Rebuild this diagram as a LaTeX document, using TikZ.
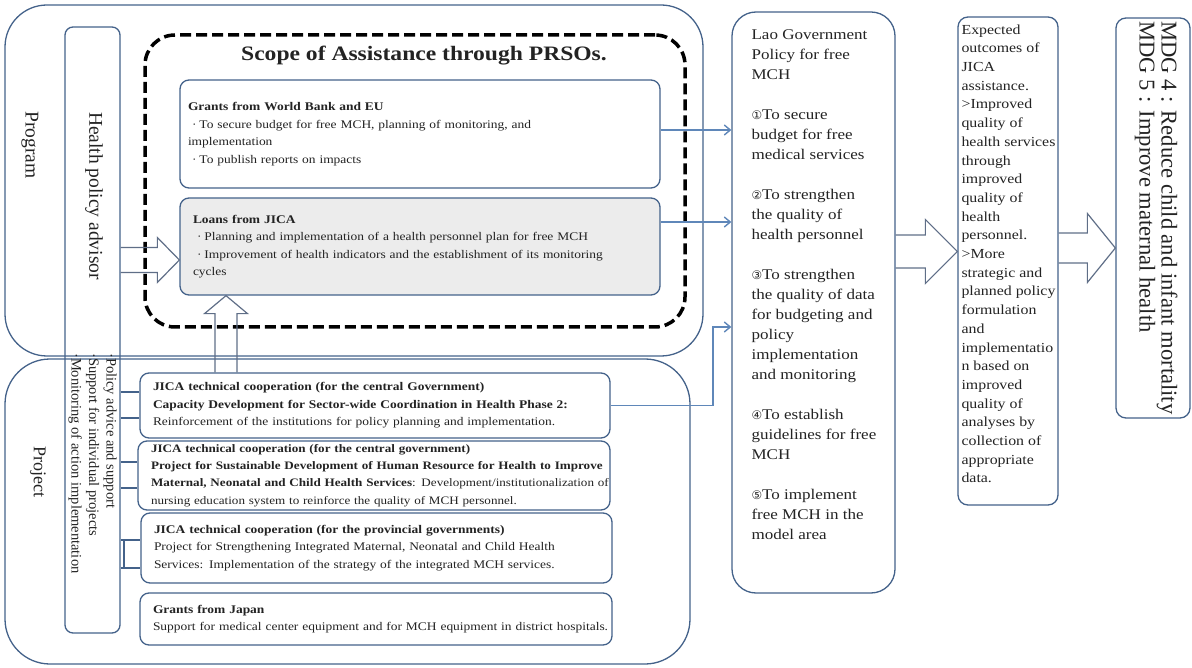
\documentclass[tikz,border=0pt]{standalone}
\usepackage{fontspec}
\setmainfont{Liberation Serif}[FakeStretch=1.15]
\newfontfamily\uprightserif{Liberation Serif}
\newfontfamily\circfont{DejaVu Sans}[Scale=0.8]
\usepackage{tikz}
\usetikzlibrary{arrows.meta, positioning, calc}
\definecolor{colBox}{RGB}{68, 98, 138}
\definecolor{colLink}{RGB}{95, 135, 185}
\definecolor{colArrow}{RGB}{95, 110, 135}
\definecolor{colFill}{RGB}{236, 236, 236}
\definecolor{colText}{RGB}{35, 35, 35}

\begin{document}
\begin{tikzpicture}[x=1pt, y=-1pt,
    every node/.style={inner sep=0pt, text=colText, font=\fontsize{11.7}{17.5}\selectfont},
    frame/.style={draw=colBox, line width=1.3pt},
    box/.style={frame, rounded corners=9pt, fill=white, align=left},
    link/.style={draw=colLink, line width=1.4pt},
    tip/.style={-{Straight Barb[length=6pt,width=10pt]}},
    hollow/.style={draw=colArrow, line width=1.2pt, line join=miter},
    side/.style={rotate=-90, font=\uprightserif\fontsize{19.5}{22}\selectfont}
]
    \useasboundingbox (0,0) rectangle (1192,668);

    % Program / Project frames
    \node[frame, rounded corners=42pt, minimum width=698pt, minimum height=351pt] (program) at (354,180.5) {};
    \node[frame, rounded corners=45pt, minimum width=685pt, minimum height=305pt] (project) at (347.5,511.5) {};
    \node[frame, rounded corners=8pt, minimum width=55pt, minimum height=606pt] (hpa) at (92.5,330) {};
    \node[draw=black, line width=3.5pt, dash pattern=on 11pt off 5pt, rounded corners=30pt,
        minimum width=540pt, minimum height=292pt] (scope) at (415,181) {};

    \node[side] (programlbl) at (30,145) {Program};
    \node[side, font=\uprightserif\fontsize{18}{22}\selectfont] (projectlbl) at (38,472) {Project};
    \node[side] (hpalbl) at (94,196) {Health policy advisor};
    \node[rotate=-90, anchor=north west, align=left, font=\uprightserif\fontsize{14.5}{17.5}\selectfont]
        (hpalist) at (117,353) {·Policy advice and support\\ ·Support for individual projects\\ ·Monitoring of action implementation};

    % Scope of assistance
    \node[font=\bfseries\fontsize{20.5}{24}\selectfont] (scopetitle) at (424,56) {Scope of Assistance through PRSOs.};
    \node[box, minimum width=480pt, minimum height=108pt, text width=464pt] (grants) at (420,134) {%
        \textbf{Grants from World Bank and EU}\\
        \hspace*{4pt}·\hspace{3pt}To secure budget for free MCH, planning of monitoring, and\\
        implementation\\
        \hspace*{4pt}·\hspace{3pt}To publish reports on impacts};
    \node[box, fill=colFill, minimum width=480pt, minimum height=97pt, text width=454pt] (loans) at (420,246.5) {%
        \textbf{Loans from JICA}\\
        \hspace*{4pt}·\hspace{3pt}Planning and implementation of a health personnel plan for free MCH\\
        \hspace*{4pt}·\hspace{3pt}Improvement of health indicators and the establishment of its monitoring\\
        cycles};

    % Projects
    \node[box, minimum width=470pt, minimum height=65pt, text width=444pt] (tc1) at (375,405.5) {%
        \textbf{JICA technical cooperation (for the central Government)}\\
        \textbf{Capacity Development for Sector-wide Coordination in Health Phase 2:}\\
        Reinforcement of the institutions for policy planning and implementation.};
    \node[box, minimum width=472pt, minimum height=69pt, text width=446pt,
        font=\fontsize{11.4}{17.3}\selectfont] (tc2) at (374,475.5) {%
        \textbf{JICA technical cooperation (for the central government)}\\
        \mbox{\textbf{Project for Sustainable Development of Human Resource for Health to Improve}}\\
        \mbox{\textbf{Maternal, Neonatal and Child Health Services}: Development/institutionalization of}\\
        nursing education system to reinforce the quality of MCH personnel.};
    \node[box, minimum width=471pt, minimum height=70pt, text width=445pt] (tc3) at (376.5,548) {%
        \textbf{JICA technical cooperation (for the provincial governments)}\\
        Project for Strengthening Integrated Maternal, Neonatal and Child Health\\
        Services: Implementation of the strategy of the integrated MCH services.};
    \node[box, minimum width=472pt, minimum height=52pt, text width=446pt] (japan) at (376,619) {%
        \textbf{Grants from Japan}\\
        \mbox{Support for medical center equipment and for MCH equipment in district hospitals.}};

    % Lao policy
    \node[box, rounded corners=24pt, minimum width=163pt, minimum height=581pt] (lao) at (813.5,302.5) {};
    \node[anchor=north west, align=left, font=\fontsize{14.8}{20}\selectfont] (laotext)
        at ([xshift=20pt, yshift=-18pt]lao.north west) {%
        Lao Government\\ Policy for free\\ MCH\\[20pt]
        {\circfont ①}To secure\\ budget for free\\ medical services\\[20pt]
        {\circfont ②}To strengthen\\ the quality of\\ health personnel\\[20pt]
        {\circfont ③}To strengthen\\ the quality of data\\ for budgeting and\\ policy\\ implementation\\ and monitoring\\[20pt]
        {\circfont ④}To establish\\ guidelines for free\\ MCH\\[20pt]
        {\circfont ⑤}To implement\\ free MCH in the\\ model area};

    % Expected outcomes
    \node[box, rounded corners=10pt, minimum width=100pt, minimum height=488pt] (outcome) at (1008,261) {};
    \node[anchor=north west, align=left, font=\fontsize{13.8}{18.7}\selectfont] (outcometext)
        at ([xshift=4pt, yshift=-8pt]outcome.north west) {%
        Expected\\ outcomes of\\ JICA\\ assistance.\\ >Improved\\ quality of\\ health services\\ through\\
        improved\\ quality of\\ health\\ personnel.\\ >More\\ strategic and\\ planned policy\\ formulation\\ and\\
        implementatio\\ n based on\\ improved\\ quality of\\ analyses by\\ collection of\\ appropriate\\ data.};

    % MDG
    \node[box, rounded corners=10pt, minimum width=74pt, minimum height=400pt] (mdg) at (1153,218) {};
    \node[rotate=-90, anchor=north west, align=left, font=\uprightserif\fontsize{22.6}{22}\selectfont] (mdgtext)
        at ([xshift=-13pt, yshift=-4pt]mdg.north east) {MDG 4 : Reduce child and infant mortality\\ MDG 5 : Improve maternal health};

    % thin links to Lao policy
    \draw[link, tip] (grants.east |- 0,130) -- (lao.west |- 0,130);
    \draw[link, tip] (loans.east |- 0,222) -- (lao.west |- 0,222);
    \coordinate (bend) at (713,327);
    \draw[link, tip] (tc1.east) -| (bend) -- (bend -| lao.west);

    % advisor to projects
    \foreach \y in {392,418} \draw[frame] (hpa.east |- 0,\y) -- (tc1.west |- 0,\y);
    \foreach \y in {462,488} \draw[frame] (hpa.east |- 0,\y) -- (tc2.west |- 0,\y);
    \foreach \y in {540,568} \draw[frame] (hpa.east |- 0,\y) -- (tc3.west |- 0,\y);
    \draw[frame] (124,540) -- (124,568);

    % hollow arrows
    \coordinate (a1) at (loans.west |- 0,260);
    \draw[hollow] (hpa.east |- 0,247.5) -- ($(a1)+(-22,-12.5)$) -- ($(a1)+(-22,-22.5)$) -- (a1)
        -- ($(a1)+(-22,22.5)$) -- ($(a1)+(-22,12.5)$) -- (hpa.east |- 0,272.5);
    \coordinate (a2) at (226,0 |- loans.south);
    \draw[hollow] (tc1.north -| 215,0) -- ($(a2)+(-11,18)$) -- ($(a2)+(-21.5,18)$) -- (a2)
        -- ($(a2)+(21.5,18)$) -- ($(a2)+(11,18)$) -- (tc1.north -| 237,0);
    \coordinate (a3) at (outcome.west |- 0,251.5);
    \draw[hollow] (lao.east |- 0,235) -- ($(a3)+(-32,-16.5)$) -- ($(a3)+(-32,-32)$) -- (a3)
        -- ($(a3)+(-32,32)$) -- ($(a3)+(-32,16.5)$) -- (lao.east |- 0,268);
    \coordinate (a4) at (mdg.west |- 0,248);
    \draw[hollow] (outcome.east |- 0,233) -- ($(a4)+(-28,-15)$) -- ($(a4)+(-28,-34.5)$) -- (a4)
        -- ($(a4)+(-28,34.5)$) -- ($(a4)+(-28,15)$) -- (outcome.east |- 0,263);
\end{tikzpicture}
\end{document}
